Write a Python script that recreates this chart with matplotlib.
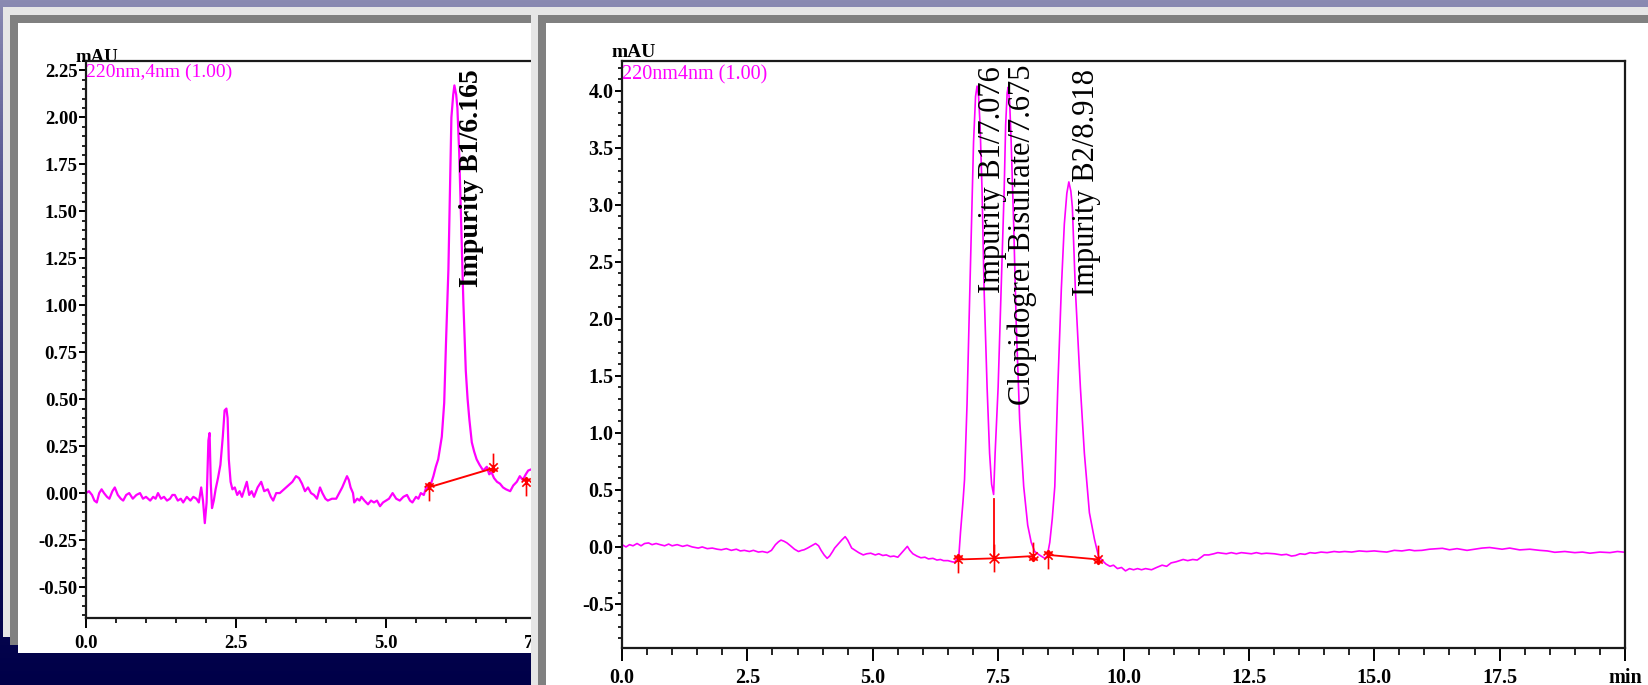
import numpy as np
import matplotlib
matplotlib.use("Agg")
import matplotlib.pyplot as plt
from matplotlib.patches import Rectangle
from matplotlib.path import Path
from matplotlib.colors import LinearSegmentedColormap
from matplotlib.ticker import MultipleLocator, FormatStrFormatter

W, H = 1649, 685

# left run: time (min) and signal (mAU)
left_t = [0.00, 0.05, 0.10, 0.14, 0.18, 0.22, 0.26, 0.30, 0.35, 0.39, 0.44, 0.48, 0.53, 0.58,
          0.62, 0.67, 0.72, 0.78, 0.84, 0.90, 0.95, 1.00, 1.07, 1.12, 1.16, 1.20, 1.25, 1.30,
          1.35, 1.40, 1.44, 1.48, 1.53, 1.58, 1.62, 1.68, 1.74, 1.79, 1.84, 1.88, 1.92, 1.95,
          1.98, 2.01, 2.04, 2.06, 2.08, 2.10, 2.13, 2.16, 2.20, 2.24, 2.28, 2.31, 2.34, 2.36,
          2.38, 2.41, 2.44, 2.48, 2.52, 2.56, 2.60, 2.64, 2.68, 2.72, 2.76, 2.80, 2.86, 2.92,
          2.97, 3.03, 3.08, 3.12, 3.17, 3.23, 3.30, 3.37, 3.44, 3.50, 3.55, 3.60, 3.65, 3.70,
          3.75, 3.80, 3.85, 3.90, 3.94, 3.99, 4.03, 4.10, 4.17, 4.22, 4.27, 4.31, 4.35, 4.38,
          4.41, 4.45, 4.47, 4.52, 4.56, 4.59, 4.64, 4.70, 4.75, 4.80, 4.85, 4.90, 4.95, 5.00,
          5.05, 5.11, 5.17, 5.23, 5.29, 5.35, 5.40, 5.44, 5.50, 5.54, 5.58, 5.63, 5.67, 5.71,
          5.76, 5.79, 5.83, 5.87, 5.90, 5.93, 5.97, 6.00, 6.04, 6.07, 6.09, 6.12, 6.14, 6.17,
          6.19, 6.22, 6.26, 6.29, 6.33, 6.36, 6.39, 6.43, 6.47, 6.51, 6.56, 6.62, 6.68, 6.72,
          6.76, 6.80, 6.85, 6.90, 6.95, 7.00, 7.07, 7.12, 7.18, 7.23, 7.28, 7.33, 7.37, 7.45,
          7.55, 7.70]
left_v = [0.00, 0.01, -0.01, -0.04, -0.05, 0.00, 0.02, 0.00, -0.02, -0.03, 0.01, 0.03, -0.01, -0.03,
          -0.04, -0.01, 0.00, -0.03, -0.01, 0.00, -0.03, -0.02, -0.04, -0.02, -0.03, 0.00, -0.03, -0.02,
          -0.04, -0.03, -0.01, -0.01, -0.04, -0.03, -0.05, -0.02, -0.04, -0.02, -0.03, -0.05, 0.03, -0.04,
          -0.16, -0.05, 0.28, 0.32, 0.05, -0.08, -0.04, 0.02, 0.08, 0.15, 0.30, 0.44, 0.45, 0.40,
          0.18, 0.06, 0.02, 0.03, -0.01, 0.01, -0.02, 0.02, 0.06, -0.01, 0.01, -0.02, 0.03, 0.06,
          0.01, 0.02, -0.02, -0.04, 0.00, 0.00, 0.02, 0.04, 0.06, 0.09, 0.08, 0.05, 0.01, 0.03,
          0.00, -0.01, -0.03, 0.03, 0.00, -0.03, -0.04, -0.03, -0.03, 0.00, 0.03, 0.06, 0.09, 0.07,
          0.03, 0.00, -0.05, -0.03, -0.04, -0.02, -0.04, -0.06, -0.04, -0.05, -0.04, -0.07, -0.05, -0.04,
          -0.03, 0.00, -0.03, -0.04, -0.02, -0.01, -0.04, -0.05, -0.02, -0.03, 0.00, -0.01, 0.03, 0.03,
          0.06, 0.09, 0.14, 0.18, 0.24, 0.30, 0.48, 0.80, 1.19, 1.68, 2.00, 2.12, 2.17, 2.12,
          2.05, 1.81, 1.36, 1.01, 0.65, 0.50, 0.39, 0.27, 0.22, 0.18, 0.15, 0.12, 0.14, 0.10,
          0.11, 0.08, 0.06, 0.05, 0.03, 0.02, 0.01, 0.04, 0.06, 0.09, 0.07, 0.10, 0.12, 0.13,
          0.10, 0.08]
left_base_t = [5.71, 6.76]
left_base_v = [0.03, 0.13]
left_start = ([5.71, 7.33], [0.03, 0.06])
left_end = ([6.78], [0.14])
left_peaks = ["Impurity B1/6.165"]

# right run
right_t = [0.00, 0.08, 0.15, 0.22, 0.30, 0.38, 0.45, 0.53, 0.60, 0.68, 0.76, 0.85, 0.93, 1.00,
           1.10, 1.21, 1.30, 1.40, 1.52, 1.60, 1.70, 1.80, 1.90, 1.98, 2.08, 2.18, 2.28, 2.36,
           2.44, 2.54, 2.62, 2.72, 2.80, 2.90, 2.98, 3.06, 3.12, 3.17, 3.23, 3.29, 3.36, 3.44,
           3.52, 3.58, 3.63, 3.70, 3.78, 3.86, 3.92, 3.97, 4.03, 4.09, 4.14, 4.20, 4.24, 4.30,
           4.38, 4.45, 4.50, 4.58, 4.65, 4.72, 4.81, 4.88, 4.96, 5.05, 5.12, 5.20, 5.27, 5.35,
           5.42, 5.50, 5.58, 5.64, 5.69, 5.74, 5.80, 5.88, 5.96, 6.04, 6.11, 6.20, 6.28, 6.35,
           6.41, 6.50, 6.58, 6.64, 6.67, 6.72, 6.75, 6.80, 6.83, 6.88, 6.92, 6.97, 7.01, 7.05,
           7.08, 7.11, 7.14, 7.18, 7.22, 7.28, 7.33, 7.37, 7.41, 7.44, 7.50, 7.56, 7.62, 7.65,
           7.68, 7.70, 7.73, 7.76, 7.81, 7.86, 7.93, 8.01, 8.09, 8.16, 8.23, 8.32, 8.43, 8.48,
           8.53, 8.58, 8.63, 8.69, 8.76, 8.82, 8.87, 8.91, 8.95, 8.98, 9.04, 9.14, 9.22, 9.32,
           9.42, 9.50, 9.58, 9.65, 9.73, 9.80, 9.88, 9.96, 10.04, 10.12, 10.20, 10.28, 10.36, 10.44,
           10.56, 10.66, 10.77, 10.86, 10.95, 11.05, 11.12, 11.19, 11.28, 11.38, 11.47, 11.55, 11.61, 11.70,
           11.80, 11.88, 11.96, 12.05, 12.15, 12.25, 12.35, 12.45, 12.55, 12.65, 12.75, 12.85, 13.01, 13.15,
           13.25, 13.35, 13.43, 13.52, 13.62, 13.72, 13.82, 13.94, 14.06, 14.20, 14.30, 14.41, 14.55, 14.70,
           14.85, 15.00, 15.11, 15.25, 15.40, 15.55, 15.70, 15.80, 15.95, 16.10, 16.25, 16.36, 16.50, 16.65,
           16.85, 17.00, 17.15, 17.30, 17.41, 17.55, 17.70, 17.90, 18.10, 18.30, 18.45, 18.60, 18.80, 19.00,
           19.15, 19.30, 19.50, 19.70, 19.85, 20.00]
right_v = [0.020, 0.000, 0.020, 0.010, 0.030, 0.010, 0.030, 0.035, 0.020, 0.030, 0.020, 0.010, 0.025, 0.010,
           0.020, 0.005, 0.015, 0.000, -0.010, 0.000, -0.015, -0.010, -0.020, -0.025, -0.015, -0.030, -0.020, -0.035,
           -0.030, -0.040, -0.030, -0.045, -0.040, -0.050, -0.030, 0.020, 0.045, 0.060, 0.050, 0.035, 0.010, -0.020,
           -0.040, -0.030, -0.025, -0.010, 0.010, 0.030, 0.010, -0.030, -0.070, -0.100, -0.080, -0.040, -0.010, 0.020,
           0.060, 0.090, 0.060, -0.010, -0.030, -0.050, -0.070, -0.060, -0.055, -0.070, -0.060, -0.075, -0.070, -0.085,
           -0.080, -0.090, -0.050, -0.020, 0.005, -0.030, -0.060, -0.080, -0.095, -0.090, -0.105, -0.100, -0.115, -0.110,
           -0.120, -0.120, -0.130, -0.135, -0.100, -0.060, 0.130, 0.400, 0.590, 1.250, 1.970, 2.830, 3.550, 3.950,
           4.040, 3.950, 3.700, 3.120, 2.260, 1.400, 0.820, 0.550, 0.460, 0.820, 1.400, 2.260, 3.120, 3.700,
           3.980, 4.030, 3.900, 3.550, 2.830, 1.970, 1.110, 0.530, 0.190, 0.040, -0.040, -0.070, -0.100, -0.080,
           0.040, 0.250, 0.530, 1.400, 2.260, 2.830, 3.100, 3.200, 3.120, 2.980, 2.260, 1.400, 0.820, 0.300,
           0.070, -0.080, -0.120, -0.150, -0.170, -0.160, -0.190, -0.180, -0.210, -0.190, -0.200, -0.190, -0.200, -0.190,
           -0.200, -0.180, -0.160, -0.170, -0.140, -0.130, -0.120, -0.110, -0.120, -0.110, -0.115, -0.090, -0.070, -0.070,
           -0.060, -0.050, -0.055, -0.060, -0.050, -0.060, -0.050, -0.055, -0.060, -0.050, -0.060, -0.055, -0.060, -0.070,
           -0.065, -0.080, -0.075, -0.060, -0.065, -0.050, -0.055, -0.045, -0.050, -0.040, -0.045, -0.040, -0.045, -0.035,
           -0.040, -0.035, -0.040, -0.045, -0.030, -0.035, -0.025, -0.033, -0.030, -0.020, -0.015, -0.012, -0.025, -0.015,
           -0.030, -0.020, -0.010, -0.005, -0.012, -0.020, -0.010, -0.026, -0.020, -0.030, -0.035, -0.047, -0.040, -0.050,
           -0.045, -0.055, -0.045, -0.050, -0.040, -0.047]
right_base1_t = [6.70, 7.42, 8.20]
right_base1_v = [-0.11, -0.10, -0.08]
right_base2_t = [8.50, 9.50]
right_base2_v = [-0.07, -0.11]
right_drop = ([7.42, 7.42], [-0.10, 0.42])
right_start = ([6.70, 8.50], [-0.11, -0.07])
right_mid = ([7.42], [-0.10])
right_end = ([8.20, 9.50], [-0.08, -0.11])
right_peaks = ["Impurity B1/7.076", "Clopidogrel Bisulfate/7.675", "Impurity B2/8.918"]

left_xticks = [0, 2.5, 5.0, 7.5]
left_xlabels = ["0.0", "2.5", "5.0", "7.5"]
right_xticks = [0, 2.5, 5.0, 7.5, 10.0, 12.5, 15.0, 17.5, 20.0]
right_xlabels = ["0.0", "2.5", "5.0", "7.5", "10.0", "12.5", "15.0", "17.5", "min"]

plt.rcParams['font.family'] = ['Liberation Serif', 'DejaVu Serif']
plt.rcParams['axes.unicode_minus'] = False

MAG = '#ff00ff'
RED = '#ff0000'

M, L = Path.MOVETO, Path.LINETO
start_mk = Path([(0, -1), (0, 0.35), (-0.35, 0.0), (0, 0.35), (0.35, 0.0),
                 (-0.3, -0.3), (0.3, 0.3), (-0.3, 0.3), (0.3, -0.3)],
                [M, L, M, L, L, M, L, M, L])
end_mk = Path([(0, 1), (0, -0.35), (-0.35, 0.0), (0, -0.35), (0.35, 0.0),
               (-0.3, -0.3), (0.3, 0.3), (-0.3, 0.3), (0.3, -0.3)],
              [M, L, M, L, L, M, L, M, L])
mid_mk = Path([(0, -1), (0, 1), (-0.35, -0.35), (0.35, 0.35), (-0.35, 0.35), (0.35, -0.35)],
              [M, L, M, L, M, L])


def px_axes(fig, x0, y0, x1, y1, z):
    return fig.add_axes([x0 / W, 1 - y1 / H, (x1 - x0) / W, (y1 - y0) / H], zorder=z)


def layer(fig, z):
    ax = fig.add_axes([0, 0, 1, 1], zorder=z)
    ax.set_xlim(0, W)
    ax.set_ylim(H, 0)
    ax.axis('off')
    ax.patch.set_alpha(0)
    return ax


def window(ax, x, y):
    ax.add_patch(Rectangle((x, y), 2000, 2000, fc='#e6e6e6', ec='none'))
    ax.add_patch(Rectangle((x + 7, y + 8), 2000, 2000, fc='#808080', ec='none'))
    ax.add_patch(Rectangle((x + 15, y + 16), 2000, 2000, fc='white', ec='none'))


def style(ax, xticks, xlabels, ymajor, yminor, fmt, fs, xlen, xpad):
    ax.set_facecolor('none')
    for s in ax.spines.values():
        s.set_linewidth(1.6)
        s.set_color('#1a1a1a')
    ax.set_xticks(xticks)
    ax.set_xticklabels(xlabels, fontweight='bold', fontsize=fs)
    ax.xaxis.set_minor_locator(MultipleLocator(0.5))
    ax.yaxis.set_major_locator(MultipleLocator(ymajor))
    ax.yaxis.set_minor_locator(MultipleLocator(yminor))
    ax.yaxis.set_major_formatter(FormatStrFormatter(fmt))
    ax.tick_params(axis='y', which='major', direction='out', length=5, width=1.4, pad=1, labelsize=fs)
    ax.tick_params(axis='y', which='minor', direction='out', length=2.8, width=1.2)
    ax.tick_params(axis='x', which='major', direction='out', length=xlen, width=1.4, pad=xpad)
    ax.tick_params(axis='x', which='minor', direction='out', length=xlen * 0.55, width=1.2)
    for t in ax.get_yticklabels():
        t.set_fontweight('bold')


def marks(ax, pts, mk):
    ax.plot(pts[0], pts[1], ls='none', marker=mk, ms=20, mfc='none', mec=RED, mew=1.2,
            clip_on=False, zorder=4)


fig = plt.figure(figsize=(W / 100, H / 100), dpi=100)

bg = layer(fig, 0)
cmap = LinearSegmentedColormap.from_list('bgfade', ['#8a8ab2', '#4a4a8a', '#12125e', '#000048'])
bg.imshow(np.linspace(0, 1, 256).reshape(-1, 1), extent=[0, W, H, 0], aspect='auto', cmap=cmap, zorder=0)
bg.set_xlim(0, W)
bg.set_ylim(H, 0)
bg.add_patch(Rectangle((3, 7), 528, 630, fc='#e6e6e6', ec='none'))
bg.add_patch(Rectangle((10, 15), 521, 630, fc='#808080', ec='none'))
bg.add_patch(Rectangle((18, 23), 513, 630, fc='white', ec='none'))
bg.text(75, 62, 'mAU', fontsize=13.5, fontweight='bold', ha='left', va='baseline')

# left chromatogram
lc = px_axes(fig, 86, 61, 686, 618, 1)
lc.set_xlim(0, 10)
lc.set_ylim(-0.665, 2.30)
style(lc, left_xticks, left_xlabels, 0.25, 0.05, '%.2f', 13.5, 7, 5)
lc.spines['right'].set_visible(False)
lc.plot(left_t, left_v, color=MAG, lw=1.6, zorder=2)
lc.plot(left_base_t, left_base_v, color=RED, lw=1.4, zorder=3)
marks(lc, left_start, start_mk)
marks(lc, left_end, end_mk)
lc.text(0.0, 2.285, '220nm,4nm (1.00)', color=MAG, fontsize=14, ha='left', va='top')
lc.text(6.42, 2.255, left_peaks[0], rotation=90, fontsize=20, fontweight='bold',
        ha='center', va='top')

# right window drawn over the left one
ov = layer(fig, 2)
window(ov, 531, 7)
ov.text(612, 57, 'mAU', fontsize=14, fontweight='bold', ha='left', va='baseline', zorder=5)

rc = px_axes(fig, 622, 61, 1625, 648, 3)
rc.set_xlim(0, 20)
rc.set_ylim(-0.886, 4.26)
style(rc, right_xticks, right_xlabels, 0.5, 0.1, '%.1f', 14.5, 9, 5.5)
rc.plot(right_t, right_v, color=MAG, lw=1.2, zorder=2)
rc.plot(right_base1_t, right_base1_v, color=RED, lw=1.3, zorder=3)
rc.plot(right_base2_t, right_base2_v, color=RED, lw=1.3, zorder=3)
rc.plot(right_drop[0], right_drop[1], color=RED, lw=1.3, zorder=3)
marks(rc, right_start, start_mk)
marks(rc, right_mid, mid_mk)
marks(rc, right_end, end_mk)
rc.text(0.0, 4.225, '220nm4nm (1.00)', color=MAG, fontsize=14.5, ha='left', va='top')
for name, x, y in zip(right_peaks, [7.39, 7.99, 9.26], [4.21, 4.23, 4.19]):
    rc.text(x, y, name, rotation=90, fontsize=22, ha='center', va='top', zorder=5)

fig.savefig('out.png', dpi=100)
